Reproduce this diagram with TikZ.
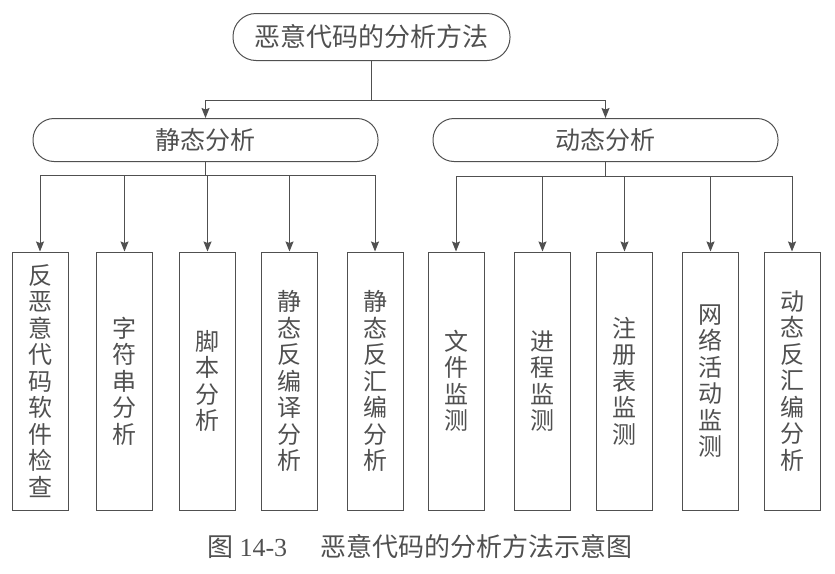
\documentclass[tikz,border=0pt]{standalone}
\usepackage{fontspec}
\setmainfont{Liberation Serif}
\newfontfamily\cjk{Noto Sans CJK SC}
\usetikzlibrary{arrows.meta}
\definecolor{ink}{RGB}{80,80,80}

\begin{document}
\begin{tikzpicture}[x=1pt, y=-1pt, color=ink, line width=1pt,
  >={Stealth[length=10pt,width=8pt,inset=1.5pt]},
  root/.style={draw, rounded corners=23pt, minimum width=277pt, minimum height=47pt,
    inner sep=0pt, font=\cjk\fontsize{26}{30}\selectfont},
  branch/.style={draw, rounded corners=21pt, minimum width=345pt, minimum height=43pt,
    inner sep=0pt, font=\cjk\fontsize{25}{30}\selectfont},
  leaf/.style={draw, minimum width=56pt, minimum height=258pt, inner sep=0pt,
    align=center, font=\cjk\fontsize{24}{26.5}\selectfont},
  caption/.style={font=\fontsize{26}{30}\selectfont}]
  \useasboundingbox (0,0) rectangle (835,573);
  % top and the two branches
  \node[root] (method) at (371.5,37) {恶意代码的分析方法};
  \node[branch] (static) at (205.5,140) {静态分析};
  \node[branch] (dynamic) at (605.5,140) {动态分析};
  \coordinate (split) at (371.5,100);
  \coordinate (sbus) at (205.5,175);
  \coordinate (dbus) at (605.5,176);
  % static leaves
  \node[leaf] (antivir) at (40,381) {反\\恶\\意\\代\\码\\软\\件\\检\\查};
  \node[leaf] (strings) at (124.5,381) {字\\符\\串\\分\\析};
  \node[leaf] (script) at (207.5,381) {脚\\本\\分\\析};
  \node[leaf] (decomp) at (289.5,381) {静\\态\\反\\编\\译\\分\\析};
  \node[leaf] (disasm) at (375,381) {静\\态\\反\\汇\\编\\分\\析};
  % dynamic leaves
  \node[leaf] (filemon) at (456,381) {文\\件\\监\\测};
  \node[leaf] (procmon) at (542.5,381) {进\\程\\监\\测};
  \node[leaf] (regmon) at (624.5,381) {注\\册\\表\\监\\测};
  \node[leaf] (netmon) at (710.5,381) {网\\络\\活\\动\\监\\测};
  \node[leaf] (dyndisasm) at (792,381) {动\\态\\反\\汇\\编\\分\\析};
  % connectors
  \draw (method) -- (split);
  \draw[->] (split) -| (static);
  \draw[->] (split) -| (dynamic);
  \draw (static) -- (sbus);
  \draw[->] (sbus) -| (antivir);
  \draw[->] (sbus) -| (strings);
  \draw[->] (sbus) -| (script);
  \draw[->] (sbus) -| (decomp);
  \draw[->] (sbus) -| (disasm);
  \draw (dynamic) -- (dbus);
  \draw[->] (dbus) -| (filemon);
  \draw[->] (dbus) -| (procmon);
  \draw[->] (dbus) -| (regmon);
  \draw[->] (dbus) -| (netmon);
  \draw[->] (dbus) -| (dyndisasm);
  % caption
  \node[caption] (cap) at (420,547) {{\cjk 图} 14-3\hspace{1.3em}{\cjk 恶意代码的分析方法示意图}};
\end{tikzpicture}
\end{document}
